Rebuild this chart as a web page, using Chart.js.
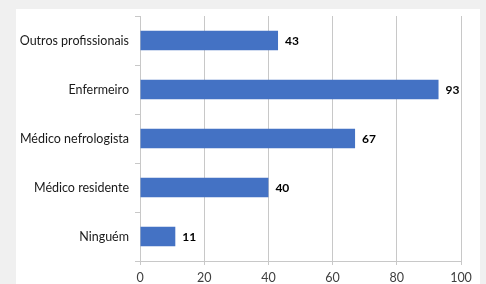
<!DOCTYPE html>
<html>
<head>
<meta charset="utf-8">
<script src="https://cdn.jsdelivr.net/npm/chart.js@4.4.1/dist/chart.umd.min.js"></script>
<style>
    html, body { margin: 0; padding: 0; background: #f0f0f0; overflow: hidden; }
    #panel {
        position: absolute;
        left: 16px;
        top: 9px;
        width: 464px;
        height: 280px;
        background: #ffffff;
    }
</style>
</head>
<body>
<div id="panel"><canvas id="chart" width="464" height="280"></canvas></div>
<script>
const categories = ["Outros profissionais", "Enfermeiro", "Médico nefrologista", "Médico residente", "Ninguém"];
const values = [43, 93, 67, 40, 11];
const xTicks = [0, 20, 40, 60, 80, 100];

// draws the bold value right after each bar
const valueLabels = {
    id: "valueLabels",
    afterDatasetsDraw(chart) {
        const ctx = chart.ctx;
        const meta = chart.getDatasetMeta(0);
        ctx.save();
        ctx.font = "bold 12px Lato";
        ctx.fillStyle = "#000000";
        ctx.textBaseline = "middle";
        ctx.textAlign = "left";
        meta.data.forEach((bar, i) => {
            ctx.fillText(String(values[i]), bar.x + 7, bar.y + 1);
        });
        ctx.restore();
    }
};

new Chart(document.getElementById("chart"), {
    type: "bar",
    data: {
        labels: categories,
        datasets: [{
            data: values,
            backgroundColor: "#4472C4",
            borderWidth: 0,
            categoryPercentage: 1,
            barPercentage: 0.4
        }]
    },
    options: {
        indexAxis: "y",
        responsive: false,
        animation: false,
        layout: { padding: { top: 7, right: 19, left: 0, bottom: 0 } },
        plugins: {
            legend: { display: false },
            tooltip: { enabled: false }
        },
        scales: {
            x: {
                min: 0,
                max: 100,
                afterBuildTicks(scale) {
                    scale.ticks = xTicks.map(v => ({ value: v }));
                },
                afterFit(scale) { scale.height = 28; },
                grid: { color: "#c8c8c8", tickLength: 4, lineWidth: 1 },
                border: { color: "#c8c8c8" },
                ticks: { color: "#404040", font: { family: "Lato", size: 12.5 }, padding: 5 }
            },
            y: {
                afterFit(scale) {
                    scale.width = 124;
                    scale.paddingTop = 0;
                    scale.paddingBottom = 0;
                },
                grid: { drawOnChartArea: false, color: "#c8c8c8", tickLength: 5 },
                border: { color: "#c8c8c8" },
                ticks: { color: "#1a1a1a", font: { family: "Lato", size: 12.5 }, padding: 6 }
            }
        }
    },
    plugins: [valueLabels]
});
</script>
</body>
</html>
